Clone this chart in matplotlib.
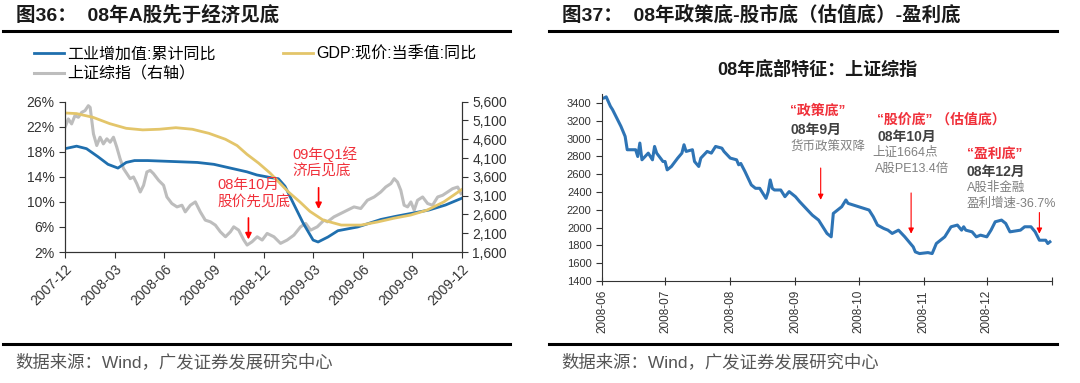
import matplotlib
matplotlib.use('Agg')
import matplotlib.pyplot as plt
from matplotlib.lines import Line2D
import pandas as pd

plt.rcParams['font.family'] = ['Liberation Sans', 'Noto Sans CJK SC']

W, H = 1080, 383

# ---- left chart data (x = months since 2007-12) ----
l_tick_labels = ['2007-12', '2008-03', '2008-06', '2008-09', '2008-12',
                 '2009-03', '2009-06', '2009-09', '2009-12']

iva_m = [0, 0.7, 1.3, 2, 2.6, 3.2, 3.7, 4.2, 5, 6, 7, 8, 9, 10, 11, 11.6,
         12.4, 12.9, 13.3, 13.8, 14.4, 15.0, 15.3, 15.9, 16.5, 17.7, 19.1,
         20, 21, 22, 23, 24]
iva_v = [18.5, 18.9, 18.5, 17.2, 16.0, 15.4, 16.3, 16.6, 16.6, 16.5, 16.4,
         16.3, 16.0, 15.4, 14.8, 14.3, 13.9, 13.7, 12.5, 9.8, 6.6, 3.9, 3.6,
         4.4, 5.4, 6.0, 7.2, 7.7, 8.2, 8.7, 9.5, 10.6]

gdp_m = [0, 0.7, 1.7, 2.7, 3.7, 4.7, 5.7, 6.7, 7.7, 8.7, 9.7, 10.4, 11.0,
         11.7, 12.4, 13.5, 14.2, 14.8, 15.6, 16.7, 17.9, 18.9, 19.9, 20.9,
         21.9, 22.9, 24]
gdp_v = [24.2, 24.1, 23.5, 22.5, 21.75, 21.5, 21.6, 21.85, 21.6, 20.95, 20.0,
         19.0, 17.6, 16.2, 14.6, 11.6, 10.0, 8.5, 7.1, 6.3, 6.3, 6.8, 7.4,
         7.9, 8.7, 10.0, 12.0]

sh_m = [0, 0.2, 0.4, 0.6, 0.81, 1.01, 1.21, 1.41, 1.52, 1.72, 1.92, 2.12,
        2.32, 2.53, 2.73, 2.93, 3.13, 3.33, 3.54, 3.74, 3.94, 4.14, 4.34,
        4.55, 4.75, 4.95, 5.15, 5.35, 5.66, 5.96, 6.16, 6.46, 6.77, 7.07,
        7.27, 7.58, 7.88, 8.18, 8.48, 8.79, 9.09, 9.39, 9.7, 10.0, 10.2,
        10.5, 10.81, 11.01, 11.31, 11.62, 11.92, 12.22, 12.63, 13.03, 13.43,
        13.84, 14.24, 14.55, 14.85, 15.25, 15.66, 15.86, 16.26, 16.67, 17.07,
        17.47, 17.88, 18.28, 18.69, 19.09, 19.39, 19.7, 19.9, 20.1, 20.3,
        20.5, 20.71, 20.91, 21.11, 21.31, 21.62, 21.92, 22.22, 22.53, 22.83,
        23.13, 23.43, 23.74, 23.94]
sh_v = [4919, 5142, 5009, 5229, 5185, 5317, 5362, 5494, 5450, 4744, 4434,
        4655, 4477, 4612, 4522, 4655, 4389, 4082, 3817, 3685, 3552, 3597,
        3420, 3197, 3375, 3730, 3772, 3685, 3507, 3375, 3065, 2890, 2800,
        2845, 2668, 2845, 2933, 2668, 2448, 2403, 2315, 2138, 2005, 2138,
        2270, 2182, 1918, 1785, 1873, 2005, 1918, 2094, 2005, 1830, 1918,
        2050, 2270, 2360, 2182, 2270, 2448, 2403, 2535, 2625, 2713, 2800,
        2757, 2977, 3065, 3197, 3330, 3420, 3552, 3462, 3243, 2845, 2800,
        2933, 2713, 2977, 3065, 2890, 2845, 3065, 3110, 3197, 3285, 3330,
        3155]

# ---- right chart data ----
r_dates = ['2008-06-02', '2008-06-03', '2008-06-05', '2008-06-06', '2008-06-10',
           '2008-06-12', '2008-06-13', '2008-06-17', '2008-06-18', '2008-06-19',
           '2008-06-20', '2008-06-23', '2008-06-24', '2008-06-25', '2008-06-26',
           '2008-06-27', '2008-06-30', '2008-07-01', '2008-07-02', '2008-07-03',
           '2008-07-04', '2008-07-07', '2008-07-09', '2008-07-10', '2008-07-11',
           '2008-07-14', '2008-07-15', '2008-07-17', '2008-07-18', '2008-07-21',
           '2008-07-23', '2008-07-25', '2008-07-28', '2008-07-29', '2008-08-01',
           '2008-08-04', '2008-08-05', '2008-08-06', '2008-08-08', '2008-08-11',
           '2008-08-13', '2008-08-15', '2008-08-18', '2008-08-19', '2008-08-20',
           '2008-08-21', '2008-08-22', '2008-08-25', '2008-08-27', '2008-08-29',
           '2008-09-01', '2008-09-03', '2008-09-09', '2008-09-12', '2008-09-16',
           '2008-09-18', '2008-09-19', '2008-09-23', '2008-09-25', '2008-09-26',
           '2008-10-06', '2008-10-08', '2008-10-10', '2008-10-13', '2008-10-15',
           '2008-10-17', '2008-10-20', '2008-10-23', '2008-10-27', '2008-10-28',
           '2008-10-30', '2008-11-03', '2008-11-05', '2008-11-06', '2008-11-07',
           '2008-11-11', '2008-11-14', '2008-11-17', '2008-11-19', '2008-11-20',
           '2008-11-21', '2008-11-24', '2008-11-26', '2008-11-28', '2008-12-01',
           '2008-12-03', '2008-12-05', '2008-12-08', '2008-12-10', '2008-12-12',
           '2008-12-17', '2008-12-19', '2008-12-22', '2008-12-24', '2008-12-26',
           '2008-12-29', '2008-12-30', '2008-12-31']
r_vals = [3456, 3468, 3362, 3325, 3137, 3024, 2874, 2874, 2798, 2949,
          2761, 2836, 2798, 2761, 2911, 2836, 2742, 2742, 2648, 2667,
          2686, 2780, 2836, 2930, 2855, 2874, 2742, 2686, 2780, 2855,
          2836, 2911, 2892, 2855, 2780, 2761, 2705, 2720, 2629, 2479,
          2441, 2441, 2328, 2400, 2535, 2440, 2422, 2422, 2347, 2404,
          2347, 2291, 2140, 2084, 1934, 1896, 2159, 2234, 2310, 2272,
          2197, 2122, 2028, 1990, 1971, 1934, 1971, 1896, 1783, 1727,
          1708, 1719, 1708, 1764, 1821, 1896, 2009, 2028, 1971, 2009,
          1971, 1952, 1896, 1915, 1896, 1971, 2065, 2084, 2046, 1952,
          1971, 2009, 2009, 1952, 1858, 1858, 1821, 1840]
r_tick_labels = ['2008-06', '2008-07', '2008-08', '2008-09', '2008-10',
                 '2008-11', '2008-12', '2009-01']


def fy(py):
    return 1 - py / H


fig = plt.figure(figsize=(W / 100, H / 100), dpi=100)

# headers / footers
for x0, x1, title in [(3, 510, '图36：  08年A股先于经济见底'),
                      (549, 1057, '图37：  08年政策底-股市底（估值底）-盈利底')]:
    fig.text((x0 + 13) / W, fy(15), title, fontsize=14, fontweight='bold',
             va='center', color='#1a1a1a')
    fig.add_artist(Line2D([x0 / W, x1 / W], [fy(31), fy(31)], color='black', lw=2.2))
    fig.add_artist(Line2D([x0 / W, x1 / W], [fy(344), fy(344)], color='black', lw=2.2))
    fig.text((x0 + 12) / W, fy(362), '数据来源：Wind，广发证券发展研究中心',
             fontsize=12.5, va='center', color='#555555')

# ---- left chart ----
ax = fig.add_axes([65 / W, fy(252), (462 - 65) / W, (252 - 101.7) / H])
ax2 = ax.twinx()
ax.set_zorder(ax2.get_zorder() + 1)
ax.patch.set_visible(False)

l_blue, = ax.plot(iva_m, iva_v, color='#1f6fae', lw=2.0)
l_gold, = ax.plot(gdp_m, gdp_v, color='#e3c56a', lw=2.0)
l_gray, = ax2.plot(sh_m, sh_v, color='#bdbdbd', lw=2.2)

ax.set_xlim(0, 24)
ax.set_ylim(2, 26)
ax.set_yticks(range(2, 27, 4))
ax.set_yticklabels([f'{v}%' for v in range(2, 27, 4)])
ax2.set_ylim(1600, 5600)
ax2.set_yticks(range(1600, 5601, 500))
ax2.set_yticklabels([f'{v:,}' for v in range(1600, 5601, 500)])
ax.set_xticks(range(0, 25, 3))
ax.set_xticklabels(l_tick_labels, rotation=45, ha='right', rotation_mode='anchor')
for a in (ax, ax2):
    a.spines['top'].set_visible(False)
    a.tick_params(labelsize=10, length=4, width=0.8, colors='#333333')
    for s in a.spines.values():
        s.set_color('#333333')

fig.legend([l_blue, l_gray, l_gold],
           ['工业增加值:累计同比', '上证综指（右轴）', 'GDP:现价:当季值:同比'],
           ncol=2, loc='upper left', bbox_to_anchor=(34 / W, fy(46)),
           frameon=False, fontsize=11.5, handlelength=1.9, handletextpad=0.2,
           labelspacing=0.3, columnspacing=4.2, borderpad=0, borderaxespad=0)

red = '#f0303a'
ax.text(9.2, 11.4, '08年10月\n股价先见底', color=red, fontsize=10.5,
        va='center', ha='left', linespacing=1.3)
ax.text(13.76, 16.3, '09年Q1经\n济后见底', color=red, fontsize=10.5,
        va='center', ha='left', linespacing=1.3)
ax2.annotate('', xy=(11.09, 1860), xytext=(11.09, 2580),
             arrowprops=dict(arrowstyle='-|>', color='red', lw=1.2, mutation_scale=9))
ax.annotate('', xy=(15.33, 8.4), xytext=(15.33, 12.7),
            arrowprops=dict(arrowstyle='-|>', color='red', lw=1.2, mutation_scale=9))

# ---- right chart ----
bx = fig.add_axes([602 / W, fy(281), (1052 - 602) / W, (281 - 94) / H])
bx.plot(pd.to_datetime(r_dates), r_vals, color='#2e74b5', lw=2.2)
bx.set_ylim(1400, 3500)
bx.set_yticks(range(1400, 3401, 200))
tick_dates = pd.to_datetime([t + '-01' for t in r_tick_labels])
bx.set_xlim(tick_dates[0], tick_dates[-1])
bx.set_xticks(tick_dates)
bx.set_xticklabels(r_tick_labels[:-1] + [''], rotation=90)
for s in ('top', 'right'):
    bx.spines[s].set_visible(False)
bx.tick_params(labelsize=8, length=4, width=0.8, colors='#333333')
bx.tick_params(axis='x', direction='inout', length=6, labelsize=8.5)
for s in bx.spines.values():
    s.set_color('#333333')
fig.text(817 / W, fy(70), '08年底部特征：上证综指', fontsize=13, fontweight='bold',
         ha='center', va='center', color='#1a1a1a')

dark = '#404040'
grey = '#808080'
tr = bx.transAxes
bx.text(0.418, 0.909, '“政策底”', transform=tr, color=red, fontsize=10, fontweight='bold', va='center')
bx.text(0.418, 0.807, '08年9月', transform=tr, color=dark, fontsize=10, fontweight='bold', va='center')
bx.text(0.418, 0.717, '货币政策双降', transform=tr, color=grey, fontsize=9, va='center')
bx.text(0.611, 0.861, '“股价底” （估值底）', transform=tr, color=red, fontsize=10, fontweight='bold', va='center')
bx.text(0.613, 0.770, '08年10月', transform=tr, color=dark, fontsize=10, fontweight='bold', va='center')
bx.text(0.600, 0.684, '上证1664点', transform=tr, color=grey, fontsize=9, va='center')
bx.text(0.607, 0.599, 'A股PE13.4倍', transform=tr, color=grey, fontsize=9, va='center')
bx.text(0.811, 0.674, '“盈利底”', transform=tr, color=red, fontsize=10, fontweight='bold', va='center')
bx.text(0.811, 0.583, '08年12月', transform=tr, color=dark, fontsize=10, fontweight='bold', va='center')
bx.text(0.811, 0.497, 'A股非金融', transform=tr, color=grey, fontsize=9, va='center')
bx.text(0.811, 0.412, '盈利增速-36.7%', transform=tr, color=grey, fontsize=9, va='center')

arrow_kw = dict(arrowstyle='-|>', color='red', lw=0.8, mutation_scale=8)
for d, top, tip in [('2008-09-13', 2700, 2280), ('2008-10-26', 2420, 1900),
                    ('2008-12-26', 2200, 1900)]:
    bx.annotate('', xy=(pd.Timestamp(d), tip), xytext=(pd.Timestamp(d), top),
                arrowprops=arrow_kw)

fig.savefig('out.png', dpi=100)
